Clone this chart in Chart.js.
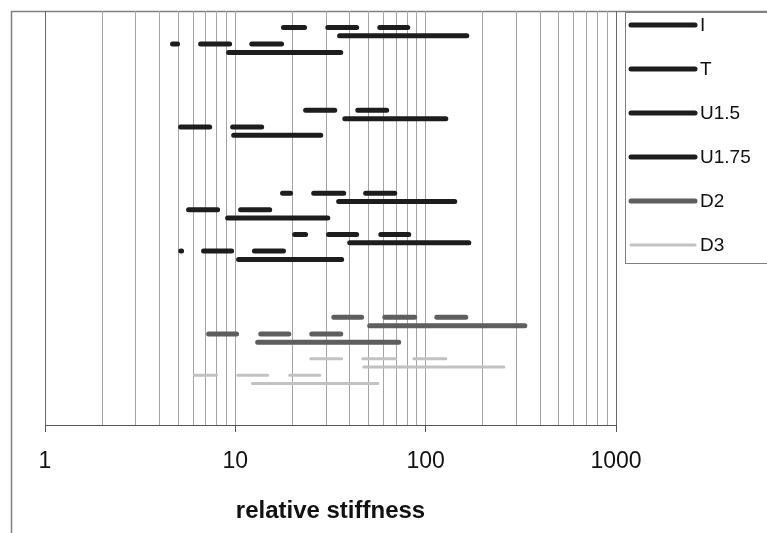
<!DOCTYPE html>
<html>
<head>
<meta charset="utf-8">
<title>relative stiffness</title>
<script src="https://cdn.jsdelivr.net/npm/chart.js@4.4.1/dist/chart.umd.min.js"></script>
<style>
  html, body { margin: 0; padding: 0; background: #ffffff; }
  #wrap { position: relative; width: 767px; height: 533px; }
  canvas { display: block; }
</style>
</head>
<body>
<div id="wrap"><canvas id="chart" width="767" height="533"></canvas></div>
<script>
// Stiffness ranges for each joint type: [from, to, row]
const rangesI = [
  [17.9, 23.1, 9.6], [30.6, 43.4, 9.6], [57.4, 80.5, 9.6],
  [35.3, 164.5, 9.4],
  [4.68, 4.97, 9.2], [6.57, 9.33, 9.2], [12.2, 17.5, 9.2],
  [9.22, 35.8, 9.0]
];
const rangesT = [
  [23.4, 33.3, 7.6], [44.0, 62.4, 7.6],
  [37.6, 127.6, 7.4],
  [5.16, 7.33, 7.2], [9.68, 13.75, 7.2],
  [9.8, 28.1, 7.0]
];
const rangesU15 = [
  [17.7, 19.5, 5.6], [25.8, 37.1, 5.6], [48.4, 68.8, 5.6],
  [34.9, 142.2, 5.4],
  [5.68, 8.07, 5.2], [10.66, 15.15, 5.2],
  [9.11, 30.6, 5.0]
];
const rangesU175 = [
  [20.5, 23.4, 4.6], [30.9, 43.4, 4.6], [58.1, 81.5, 4.6],
  [39.9, 168.5, 4.4],
  [5.17, 5.22, 4.2], [6.81, 9.56, 4.2], [12.6, 17.9, 4.2],
  [10.4, 36.2, 4.0]
];
const rangesD2 = [
  [32.9, 46.1, 2.6], [61.0, 87.6, 2.6], [114.4, 162.5, 2.6],
  [50.8, 331.9, 2.4],
  [7.24, 10.16, 2.2], [13.6, 19.1, 2.2], [25.2, 35.8, 2.2],
  [13.1, 72.2, 2.0]
];
const rangesD3 = [
  [24.9, 36.2, 1.6], [46.7, 69.6, 1.6], [86.6, 127.6, 1.6],
  [47.3, 257.4, 1.4],
  [6.11, 7.97, 1.2], [10.3, 14.8, 1.2], [19.3, 27.8, 1.2],
  [12.3, 56.0, 1.0]
];

const seriesLabels = ['I', 'T', 'U1.5', 'U1.75', 'D2', 'D3'];
const tickLabels = [1, 10, 100, 1000];
const axisTitle = 'relative stiffness';

// Styling per series
const seriesStyles = [
  { color: '#1d1d1d', width: 5 },
  { color: '#1d1d1d', width: 5 },
  { color: '#1d1d1d', width: 5 },
  { color: '#1d1d1d', width: 5 },
  { color: '#5e5e5e', width: 5 },
  { color: '#c2c2c2', width: 3 }
];

const FONT = "'Liberation Sans', Arial, Helvetica, sans-serif";

// Turn [from, to, row] ranges into line points, separated by gaps
function toPoints(ranges) {
  const pts = [];
  ranges.forEach(([a, b, y]) => {
    pts.push({ x: a, y: y });
    pts.push({ x: b, y: y });
    pts.push({ x: b, y: null });
  });
  return pts;
}

const allRanges = [rangesI, rangesT, rangesU15, rangesU175, rangesD2, rangesD3];

const datasets = allRanges.map((r, i) => ({
  label: seriesLabels[i],
  data: toPoints(r),
  showLine: true,
  spanGaps: false,
  borderColor: seriesStyles[i].color,
  backgroundColor: seriesStyles[i].color,
  borderWidth: seriesStyles[i].width,
  borderCapStyle: 'round',
  pointRadius: 0,
  pointHoverRadius: 0
}));

// Log grid: every integer multiple inside each decade
const gridValues = [];
for (let d = 0; d < tickLabels.length - 1; d++) {
  const base = tickLabels[d];
  for (let m = 1; m < 10; m++) gridValues.push(base * m);
}
gridValues.push(tickLabels[tickLabels.length - 1]);

// Outer frame of the chart area
const framePlugin = {
  id: 'frame',
  beforeDraw(chart) {
    const ctx = chart.ctx;
    ctx.save();
    ctx.strokeStyle = '#808080';
    ctx.lineWidth = 1.5;
    ctx.beginPath();
    ctx.moveTo(11.5, chart.height);
    ctx.lineTo(11.5, 11.5);
    ctx.lineTo(chart.width, 11.5);
    ctx.stroke();
    ctx.restore();
  }
};

// Boxed legend to the right of the plot
const boxedLegend = {
  id: 'boxedLegend',
  afterDraw(chart) {
    const ctx = chart.ctx;
    const left = chart.chartArea.right + 9;
    const top = 12;
    const bottom = 263;
    ctx.save();
    ctx.strokeStyle = '#808080';
    ctx.lineWidth = 1;
    ctx.strokeRect(left + 0.5, top + 0.5, chart.width - left + 10, bottom - top);
    ctx.font = '19px ' + FONT;
    ctx.textBaseline = 'middle';
    ctx.textAlign = 'left';
    chart.data.datasets.forEach((ds, i) => {
      const y = 25 + i * 44;
      ctx.strokeStyle = ds.borderColor;
      ctx.lineWidth = ds.borderWidth;
      ctx.lineCap = 'round';
      ctx.beginPath();
      ctx.moveTo(left + 6, y);
      ctx.lineTo(left + 70, y);
      ctx.stroke();
      ctx.fillStyle = '#111111';
      ctx.fillText(ds.label, left + 75, y + 1);
    });
    ctx.restore();
  }
};

new Chart(document.getElementById('chart'), {
  type: 'scatter',
  data: { datasets: datasets },
  plugins: [framePlugin, boxedLegend],
  options: {
    responsive: false,
    animation: false,
    devicePixelRatio: 1,
    layout: { padding: { left: 45, right: 151, top: 11, bottom: 0 } },
    plugins: {
      legend: { display: false },
      tooltip: { enabled: false }
    },
    scales: {
      x: {
        type: 'logarithmic',
        min: 1,
        max: 1000,
        afterBuildTicks: (scale) => {
          scale.ticks = gridValues.map(v => ({ value: v, major: tickLabels.includes(v) }));
        },
        afterFit: (scale) => { scale.height = 108; },
        border: { display: true, color: '#555555', width: 1 },
        grid: {
          display: true,
          drawOnChartArea: true,
          drawTicks: true,
          tickLength: 7,
          lineWidth: 1,
          color: (c) => (c.tick && (c.tick.value === 1 || c.tick.value === 1000)) ? '#6a6a6a' : '#a4a4a4',
          tickColor: (c) => (c.tick && tickLabels.includes(c.tick.value)) ? '#555555' : 'rgba(0,0,0,0)'
        },
        ticks: {
          autoSkip: false,
          maxRotation: 0,
          minRotation: 0,
          padding: 16,
          color: '#111111',
          font: { family: FONT, size: 23 },
          callback: (v) => tickLabels.includes(v) ? String(v) : ''
        },
        title: {
          display: true,
          text: axisTitle,
          color: '#111111',
          font: { family: FONT, size: 24, weight: 'bold' },
          padding: { top: 0, bottom: 7 }
        }
      },
      y: {
        type: 'linear',
        min: 0,
        max: 10,
        display: false
      }
    }
  }
});
</script>
</body>
</html>
